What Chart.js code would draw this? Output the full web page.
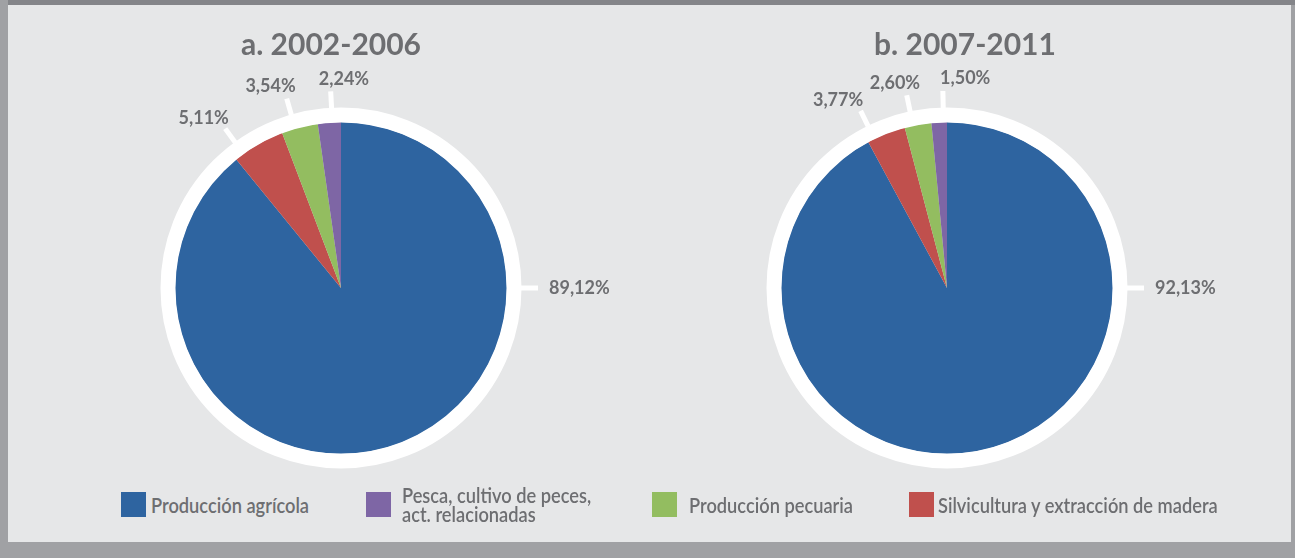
<!DOCTYPE html>
<html>
<head>
<meta charset="utf-8">
<script src="https://cdn.jsdelivr.net/npm/chart.js@4.4.0/dist/chart.umd.min.js"></script>
<style>
html, body { margin: 0; padding: 0; }
body { width: 1295px; height: 558px; background: #a0a1a4; position: relative; overflow: hidden; }
#topband { position: absolute; left: 8px; top: 0; width: 1287px; height: 5px; background: #848589; }
#panel { position: absolute; left: 8px; top: 5px; width: 1283px; height: 537px; background: #e6e7e8; }
canvas { position: absolute; top: 0; }
#chartA { left: 0; }
#chartB { left: 647px; }
.item { position: absolute; top: 492px; display: flex; align-items: flex-start; }
.box { width: 25px; height: 25px; flex: none; }
.txt { font-family: Lato, sans-serif; font-size: 21px; font-weight: 600; color: #6d6e71; line-height: 25px; white-space: nowrap; transform-origin: 0 50%; }
.txt.two { line-height: 19px; margin-top: -7px; white-space: pre; }
</style>
</head>
<body>
<div id="topband"></div>
<div id="panel"></div>
<canvas id="chartA" width="647" height="490"></canvas>
<canvas id="chartB" width="648" height="490"></canvas>
<div id="legend"></div>
<script>
// datos (orden de las porciones, en el sentido del reloj desde arriba)
const categories = ['Producción agrícola', 'Silvicultura y extracción de madera', 'Producción pecuaria', 'Pesca, cultivo de peces, act. relacionadas'];
const valuesA = [89.12, 5.11, 3.54, 2.24];
const valuesB = [92.13, 3.77, 2.60, 1.50];
const titles = ['a. 2002-2006', 'b. 2007-2011'];
const colors = ['#2e64a0', '#c0504d', '#93bd60', '#7e66a5'];
const legendOrder = [0, 3, 2, 1];

function fmt(v) {
    return v.toFixed(2).replace('.', ',') + '%';
}

// anillo blanco, titulo y etiquetas con lineas guia
const pieDecor = {
    id: 'pieDecor',
    afterDatasetsDraw(chart, args, opts) {
        const arc0 = chart.getDatasetMeta(0).data[0];
        const cx = arc0.x, cy = arc0.y, r = arc0.outerRadius;
        const ctx = chart.ctx;
        ctx.save();
        ctx.strokeStyle = '#fff';
        ctx.lineWidth = opts.ring;
        ctx.beginPath();
        ctx.arc(cx, cy, r + opts.ring / 2 - 0.5, 0, Math.PI * 2);
        ctx.stroke();

        ctx.fillStyle = '#6d6e71';
        ctx.font = 'bold 30px Lato';
        ctx.textAlign = 'center';
        ctx.textBaseline = 'alphabetic';
        ctx.fillText(opts.title, cx + opts.titleDx, opts.titleY);

        ctx.font = 'bold 18px Lato';
        ctx.textBaseline = 'middle';
        chart.data.datasets[0].data.forEach((v, i) => {
            const a = opts.angles[i] * Math.PI / 180;
            const dx = Math.sin(a), dy = -Math.cos(a);
            const r1 = r + opts.ring - 1, r2 = r + opts.ring + opts.leader;
            ctx.strokeStyle = '#fff';
            ctx.lineWidth = 5;
            ctx.beginPath();
            ctx.moveTo(cx + dx * r1, cy + dy * r1);
            ctx.lineTo(cx + dx * r2, cy + dy * r2);
            ctx.stroke();
            const txt = fmt(v);
            const w = ctx.measureText(txt).width;
            const tx = cx + dx * r2 + dx * (w / 2 + 8) + opts.nudge[i];
            const ty = cy + dy * r2 + dy * (6.5 + 6);
            ctx.fillText(txt, tx, ty);
        });
        ctx.restore();
    }
};

function makePie(id, values, padding, decor) {
    return new Chart(document.getElementById(id), {
        type: 'pie',
        data: {
            labels: categories,
            datasets: [{
                data: values,
                backgroundColor: colors,
                borderWidth: 0,
                hoverOffset: 0
            }]
        },
        options: {
            responsive: false,
            animation: false,
            layout: { padding: padding },
            plugins: {
                legend: { display: false },
                tooltip: { enabled: false },
                pieDecor: decor
            }
        },
        plugins: [pieDecor]
    });
}

makePie('chartA', valuesA, { left: 175, top: 122, right: 140, bottom: 36 }, {
    title: titles[0], titleDx: -10, titleY: 55, ring: 15, leader: 16,
    angles: [90, -36, -16, -3], nudge: [3, -2, -7, 15]
});
makePie('chartB', valuesB, { left: 134, top: 122, right: 182, bottom: 36 }, {
    title: titles[1], titleDx: 18, titleY: 55, ring: 15, leader: 16,
    angles: [90, -26, -11.8, -1.2], nudge: [3, -8, -5, 23]
});

// leyenda (texto comprimido como en el original)
const legendLeft = [121, 366, 652, 909];
const legendGap = [5, 11, 12, 4];
const legend = document.getElementById('legend');
const texts = [];
legendOrder.forEach((k, n) => {
    const item = document.createElement('div');
    item.className = 'item';
    item.style.left = legendLeft[n] + 'px';
    const box = document.createElement('div');
    box.className = 'box';
    box.style.background = colors[k];
    const txt = document.createElement('div');
    txt.className = k === 3 ? 'txt two' : 'txt';
    txt.style.marginLeft = legendGap[n] + 'px';
    txt.textContent = k === 3 ? categories[k].replace(', act.', ',\nact.') : categories[k];
    item.appendChild(box);
    item.appendChild(txt);
    legend.appendChild(item);
    texts.push(txt);
});
const sx = 158 / texts[0].getBoundingClientRect().width;
texts.forEach(t => { t.style.transform = 'scaleX(' + sx.toFixed(3) + ')'; });
</script>
</body>
</html>
